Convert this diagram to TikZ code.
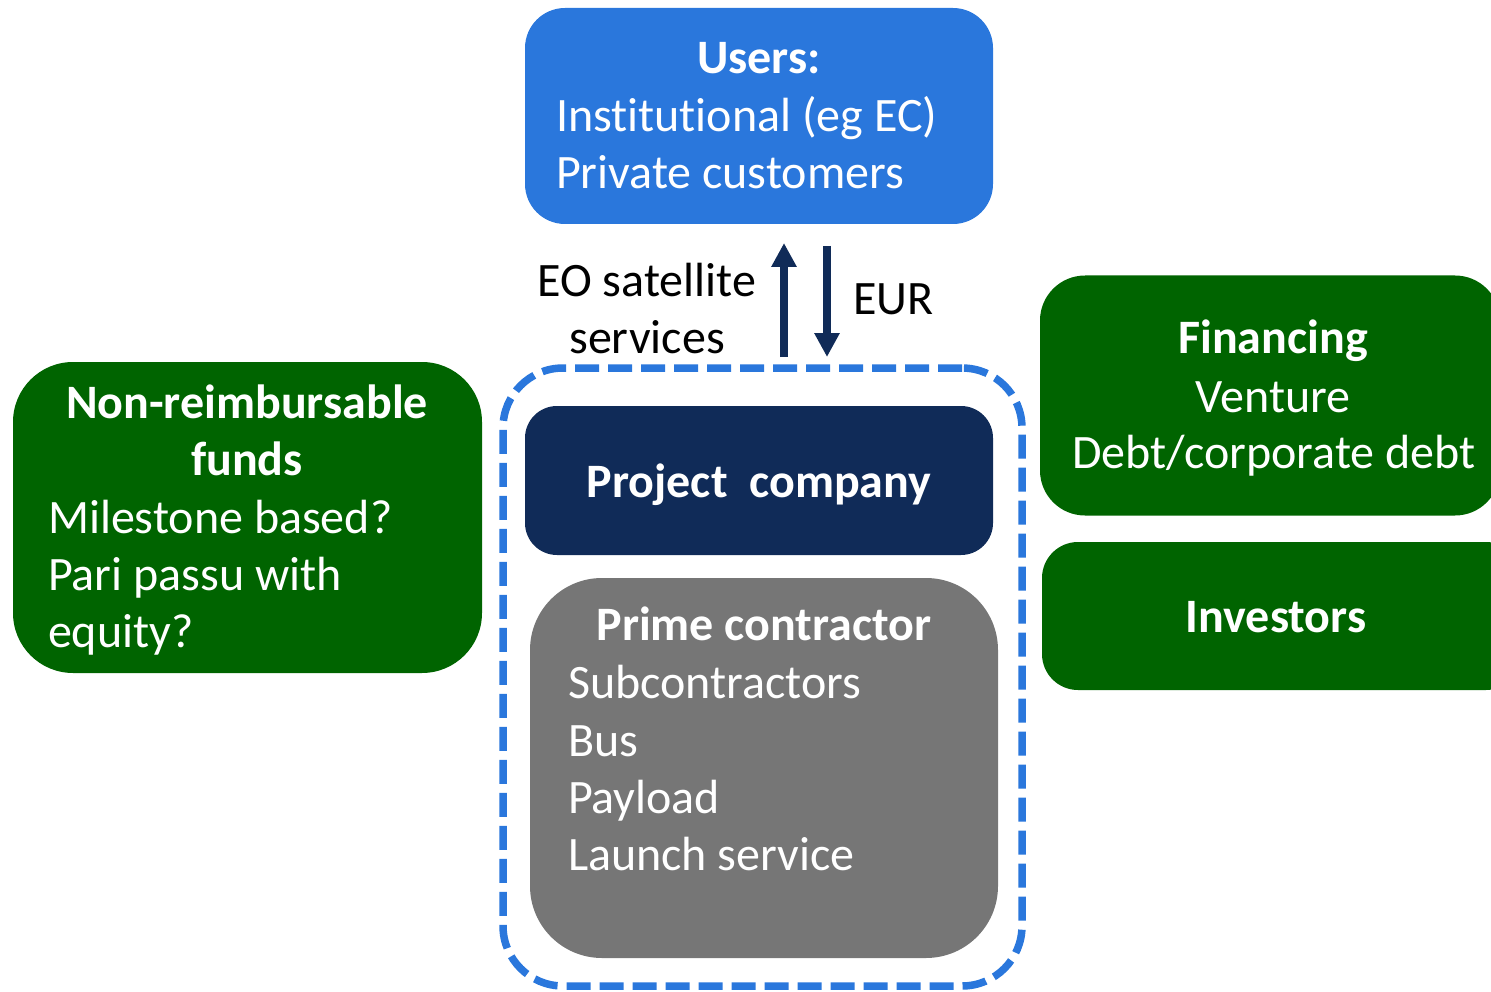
\documentclass[tikz,border=0pt]{standalone}
\usepackage{fontspec}
\setmainfont{Carlito}[Ligatures={NoCommon}]
\usetikzlibrary{arrows.meta,calc}
\definecolor{ublue}{RGB}{42,119,220}
\definecolor{navy}{RGB}{16,43,88}
\definecolor{dgreen}{RGB}{0,100,0}
\definecolor{pgray}{RGB}{118,118,118}
\begin{document}
\begin{tikzpicture}[x=1pt,y=-1pt,
  box/.style={inner sep=0pt, outer sep=0pt},
  txt/.style={text=white, inner sep=0pt, outer sep=0pt, font=\fontsize{48}{57.6}\selectfont},
  btxt/.style={txt, font=\fontsize{48}{57.6}\selectfont\bfseries},
  ktxt/.style={txt, text=black},
  flow/.style={draw=navy, line width=8pt, -{Triangle[width=24pt,length=24pt]}}]
\clip (0,0) rectangle (1491,992);
% boxes
\node[box, fill=ublue, rounded corners=40pt, minimum width=468pt, minimum height=216pt] (users) at (759,116) {};
\node[box, draw=ublue, line width=7.5pt, dash pattern=on 24pt off 9pt, rounded corners=60pt, minimum width=519pt, minimum height=618pt] (zone) at (762.5,677) {};
\node[box, fill=navy, rounded corners=32pt, minimum width=468pt, minimum height=149pt] (proj) at (759,480.5) {};
\node[box, fill=pgray, rounded corners=72pt, minimum width=468pt, minimum height=380pt] (prime) at (764,768) {};
\node[box, fill=dgreen, rounded corners=60pt, minimum width=469pt, minimum height=311pt] (nonre) at (247.5,517.5) {};
\node[box, fill=dgreen, rounded corners=45pt, minimum width=460pt, minimum height=240pt] (fin) at (1270,395.5) {};
\node[box, fill=dgreen, rounded corners=36pt, minimum width=480pt, minimum height=148pt] (inv) at (1282,616) {};
% users text
\node[btxt, anchor=base] (usersT) at (759,74) {Users:};
\node[txt, anchor=base west] (usersA) at (556,132) {Institutional (eg EC)};
\node[txt, anchor=base west] (usersB) at (556,189) {Private customers};
% arrows
\draw[flow, shorten <=11pt, shorten >=19pt] ([xshift=25pt]users.south |- zone.north) -- ([xshift=25pt]users.south);
\draw[flow, shorten <=22pt, shorten >=11pt] ([xshift=68pt]users.south) -- ([xshift=68pt]users.south |- zone.north);
\node[ktxt, anchor=base] (eo1) at (647,297) {EO satellite};
\node[ktxt, anchor=base] (eo2) at (647,353) {services};
\node[ktxt, anchor=base west] (eur) at (853,314) {EUR};
% project company
\node[btxt, anchor=base] (projT) at (759,497) {Project~~company};
% prime contractor
\node[btxt, anchor=base] (primeT) at (764,640) {Prime contractor};
\node[txt, anchor=base west] (primeA) at (568,698) {Subcontractors};
\node[txt, anchor=base west] (primeB) at (568,756) {Bus};
\node[txt, anchor=base west] (primeC) at (568,813) {Payload};
\node[txt, anchor=base west] (primeD) at (568,870) {Launch service};
% non-reimbursable
\node[btxt, anchor=base] (nonT1) at (247,418) {Non-reimbursable};
\node[btxt, anchor=base] (nonT2) at (247,475) {funds};
\node[txt, anchor=base west] (nonA) at (48,533) {Milestone based?};
\node[txt, anchor=base west] (nonB) at (48,590) {Pari passu with};
\node[txt, anchor=base west] (nonC) at (48,647) {equity?};
% financing
\node[btxt, anchor=base] (finT) at (1273,353) {Financing};
\node[txt, anchor=base] (finA) at (1273,412) {Venture};
\node[txt, anchor=base] (finB) at (1274,468) {Debt/corporate debt};
% investors
\node[btxt, anchor=base] (invT) at (1276,632) {Investors};
\end{tikzpicture}
\end{document}
